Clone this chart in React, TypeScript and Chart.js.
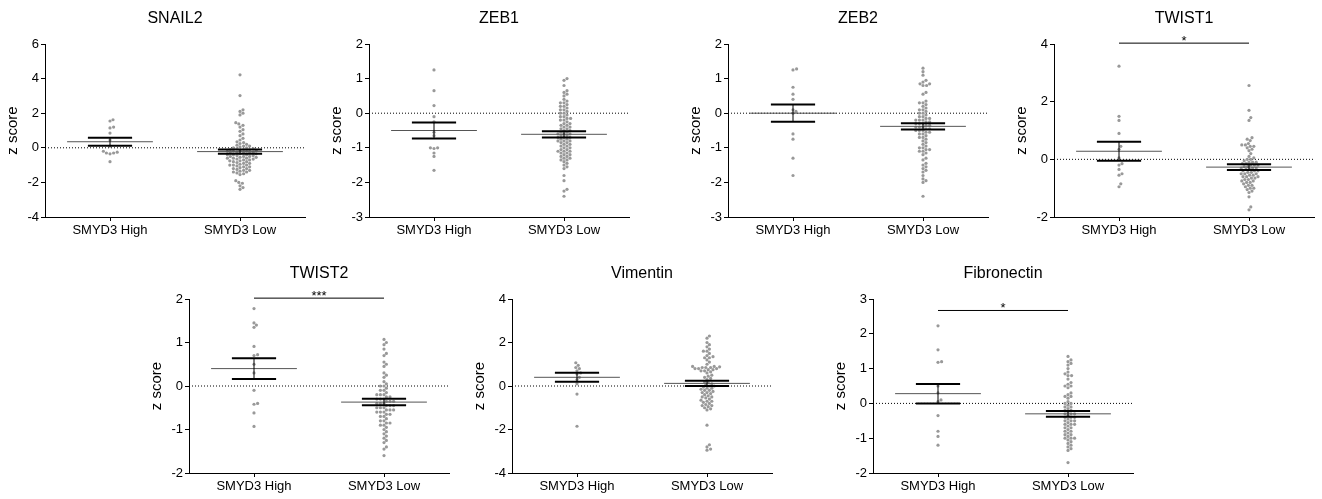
import React, { useEffect, useRef } from 'react';
import { Chart, registerables } from 'chart.js';
Chart.register(...registerables);

// ---------- data ----------
const categories = ['SMYD3 High', 'SMYD3 Low'];
const panelTitles = ['SNAIL2', 'ZEB1', 'ZEB2', 'TWIST1', 'TWIST2', 'Vimentin', 'Fibronectin'];
const yAxisTitle = 'z score';

const snail2High = [1.62, 1.55, 1.2, 1.15, 0.85, 0.45, 0.1, -0.2, -0.25, -0.3, -0.35, -0.3, -0.8];
const snail2Low = [4.22, 3.02, 2.2, 2.1, 2.0, 1.9, 1.45, 1.38, 1.3, 1.2, 1.05, 0.95, 0.8, 0.7, 0.55, 0.45, 0.35, 0.3, 0.25, 0.2, 0.15, 0.1, 0.1, 0.05, 0.0, 0.0, -0.05, -0.05, -0.1, -0.1, -0.1, -0.15, -0.15, -0.2, -0.2, -0.2, -0.25, -0.25, -0.3, -0.3, -0.3, -0.35, -0.35, -0.4, -0.4, -0.4, -0.45, -0.45, -0.5, -0.5, -0.5, -0.55, -0.55, -0.6, -0.6, -0.6, -0.65, -0.65, -0.7, -0.7, -0.75, -0.75, -0.8, -0.8, -0.85, -0.9, -0.9, -0.95, -1.0, -1.0, -1.0, -1.05, -1.1, -1.1, -1.15, -1.2, -1.2, -1.25, -1.3, -1.3, -1.35, -1.4, -1.4, -1.45, -1.5, -1.55, -1.9, -2.0, -2.05, -2.2, -2.3, -2.4];
const snail2Mean = [0.35, -0.22];
const snail2Sem = [0.23, 0.12];

const zeb1High = [1.25, 0.65, 0.22, -0.1, -0.25, -0.55, -0.65, -1.0, -1.0, -1.02, -1.15, -1.25, -1.65];
const zeb1Low = [1.0, 0.95, 0.8, 0.65, 0.6, 0.55, 0.5, 0.4, 0.35, 0.3, 0.3, 0.25, 0.2, 0.2, 0.15, 0.1, 0.1, 0.05, 0.0, 0.0, -0.05, -0.1, -0.1, -0.15, -0.15, -0.2, -0.2, -0.25, -0.3, -0.3, -0.35, -0.35, -0.4, -0.4, -0.45, -0.45, -0.5, -0.5, -0.55, -0.55, -0.6, -0.6, -0.6, -0.65, -0.65, -0.7, -0.7, -0.7, -0.75, -0.75, -0.8, -0.8, -0.8, -0.85, -0.85, -0.9, -0.9, -0.95, -0.95, -1.0, -1.0, -1.05, -1.05, -1.1, -1.1, -1.1, -1.15, -1.15, -1.2, -1.2, -1.25, -1.25, -1.3, -1.3, -1.35, -1.35, -1.4, -1.45, -1.5, -1.55, -1.6, -1.8, -1.95, -2.2, -2.25, -2.4];
const zeb1Mean = [-0.5, -0.61];
const zeb1Sem = [0.23, 0.09];

const zeb2High = [1.28, 1.25, 0.75, 0.55, 0.4, 0.1, 0.05, 0.0, -0.6, -0.75, -1.3, -1.8];
const zeb2Low = [1.3, 1.2, 1.1, 0.95, 0.9, 0.85, 0.85, 0.8, 0.8, 0.6, 0.55, 0.35, 0.3, 0.3, 0.25, 0.2, 0.15, 0.1, 0.1, 0.05, 0.0, 0.0, -0.05, -0.1, -0.1, -0.15, -0.15, -0.2, -0.2, -0.2, -0.25, -0.25, -0.3, -0.3, -0.3, -0.35, -0.35, -0.4, -0.4, -0.4, -0.45, -0.45, -0.5, -0.5, -0.5, -0.55, -0.55, -0.6, -0.6, -0.65, -0.7, -0.7, -0.75, -0.8, -0.85, -0.9, -0.95, -1.0, -1.0, -1.05, -1.05, -1.1, -1.1, -1.15, -1.2, -1.3, -1.35, -1.45, -1.5, -1.55, -1.6, -1.65, -1.7, -1.8, -1.9, -1.95, -2.0, -2.4];
const zeb2Mean = [0.0, -0.38];
const zeb2Sem = [0.25, 0.09];

const twist1High = [3.23, 1.49, 1.35, 0.9, 0.45, 0.35, 0.05, -0.15, -0.2, -0.35, -0.5, -0.55, -0.85, -0.95];
const twist1Low = [2.56, 1.7, 1.45, 1.35, 0.75, 0.7, 0.65, 0.55, 0.5, 0.5, 0.45, 0.45, 0.4, 0.35, 0.3, 0.2, 0.1, 0.05, 0.0, 0.0, -0.05, -0.1, -0.1, -0.1, -0.15, -0.15, -0.2, -0.2, -0.2, -0.25, -0.25, -0.3, -0.3, -0.3, -0.35, -0.35, -0.4, -0.4, -0.4, -0.45, -0.45, -0.5, -0.5, -0.5, -0.55, -0.55, -0.6, -0.6, -0.6, -0.65, -0.65, -0.7, -0.7, -0.75, -0.75, -0.8, -0.8, -0.85, -0.9, -0.9, -0.95, -1.0, -1.0, -1.05, -1.1, -1.15, -1.3, -1.65, -1.75];
const twist1Mean = [0.28, -0.27];
const twist1Sem = [0.33, 0.1];

const twist2High = [1.78, 1.45, 1.4, 1.35, 0.91, 0.72, 0.7, 0.5, 0.3, -0.1, -0.4, -0.42, -0.62, -0.93];
const twist2Low = [1.07, 1.0, 0.95, 0.85, 0.75, 0.7, 0.55, 0.5, 0.45, 0.3, 0.25, 0.2, 0.1, 0.05, 0.0, 0.0, -0.05, -0.1, -0.1, -0.15, -0.2, -0.2, -0.2, -0.25, -0.25, -0.3, -0.3, -0.3, -0.35, -0.35, -0.35, -0.4, -0.4, -0.4, -0.45, -0.45, -0.45, -0.5, -0.5, -0.5, -0.55, -0.55, -0.55, -0.6, -0.6, -0.6, -0.65, -0.65, -0.7, -0.7, -0.75, -0.8, -0.8, -0.85, -0.85, -0.9, -0.9, -0.95, -1.0, -1.05, -1.1, -1.15, -1.2, -1.25, -1.3, -1.4, -1.45, -1.6];
const twist2Mean = [0.4, -0.37];
const twist2Sem = [0.24, 0.075];

const vimentinHigh = [1.07, 0.95, 0.85, 0.8, 0.7, 0.6, 0.55, 0.4, 0.3, 0.1, -0.37, -1.85];
const vimentinLow = [2.3, 2.2, 2.0, 1.9, 1.8, 1.7, 1.6, 1.6, 1.5, 1.4, 1.35, 1.3, 1.3, 1.2, 1.1, 1.0, 0.9, 0.9, 0.88, 0.85, 0.85, 0.85, 0.8, 0.8, 0.8, 0.75, 0.75, 0.7, 0.7, 0.65, 0.6, 0.5, 0.45, 0.4, 0.35, 0.3, 0.2, 0.15, 0.1, 0.05, 0.0, 0.0, -0.05, -0.1, -0.1, -0.15, -0.2, -0.2, -0.25, -0.3, -0.3, -0.35, -0.4, -0.45, -0.5, -0.5, -0.55, -0.6, -0.65, -0.7, -0.7, -0.75, -0.8, -0.85, -0.9, -0.9, -0.95, -1.0, -1.05, -1.1, -1.8, -2.7, -2.8, -2.9, -2.95];
const vimentinMean = [0.4, 0.12];
const vimentinSem = [0.21, 0.12];

const fibronectinHigh = [2.23, 1.54, 1.2, 1.18, 0.5, 0.3, 0.1, 0.05, -0.35, -0.8, -0.95, -1.2];
const fibronectinLow = [1.35, 1.25, 1.2, 1.15, 1.1, 1.0, 0.9, 0.85, 0.8, 0.8, 0.7, 0.6, 0.55, 0.5, 0.5, 0.45, 0.3, 0.25, 0.2, 0.2, 0.15, 0.05, 0.0, 0.0, -0.05, -0.1, -0.1, -0.15, -0.2, -0.2, -0.25, -0.3, -0.3, -0.3, -0.35, -0.4, -0.4, -0.4, -0.45, -0.5, -0.5, -0.5, -0.55, -0.6, -0.6, -0.6, -0.65, -0.7, -0.7, -0.75, -0.8, -0.8, -0.85, -0.9, -0.9, -0.95, -1.0, -1.0, -1.0, -1.05, -1.1, -1.15, -1.2, -1.25, -1.3, -1.35, -1.7];
const fibronectinMean = [0.28, -0.3];
const fibronectinSem = [0.28, 0.085];

const yMin = [-4, -3, -3, -2, -2, -4, -2];
const yMax = [6, 2, 2, 4, 2, 4, 3];
const yStep = [2, 1, 1, 2, 1, 2, 1];
const sigLabels = ['', '', '', '*', '***', '', '*'];
const sigLevels = [null, null, null, 4.03, 2.02, null, 2.67];

// table built from the arrays
const groups = [
  [snail2High, snail2Low, snail2Mean, snail2Sem],
  [zeb1High, zeb1Low, zeb1Mean, zeb1Sem],
  [zeb2High, zeb2Low, zeb2Mean, zeb2Sem],
  [twist1High, twist1Low, twist1Mean, twist1Sem],
  [twist2High, twist2Low, twist2Mean, twist2Sem],
  [vimentinHigh, vimentinLow, vimentinMean, vimentinSem],
  [fibronectinHigh, fibronectinLow, fibronectinMean, fibronectinSem],
];

// ---------- layout / style ----------
const FONT = "'Liberation Sans', Arial, Helvetica, sans-serif";
const PLOT_W = 260;
const Y_AXIS_W = 45;
const RIGHT_PAD = 5;
const axisLeft = [45, 369, 728, 1054, 189, 512, 873];
const rowOf = [0, 0, 0, 0, 1, 1, 1];
const rowTop = [0, 250];
const rowHeight = [245, 249];
const rowPadTop = [44, 49];
const rowXAxisH = [28, 26];
const MEAN_HALF = 0.66;
const SEM_HALF = 0.34;
const CAT_X = [1, 3];

function swarm(values: number[], center: number, pxPerY: number, pxPerX: number) {
  const order = values.map((_, i) => i).sort((a, b) => values[a] - values[b]);
  const placed: { x: number; y: number }[] = [];
  const out: { x: number; y: number }[] = new Array(values.length);
  const D = 3.2;
  for (const idx of order) {
    const yPx = values[idx] * pxPerY;
    let chosen = 0;
    for (let k = 0; k < 400; k++) {
      const off = k === 0 ? 0 : (k % 2 === 1 ? 1 : -1) * Math.ceil(k / 2) * 0.6;
      let ok = true;
      for (const p of placed) {
        const dy = p.y - yPx;
        if (Math.abs(dy) >= D) continue;
        const dx = p.x - off;
        if (dx * dx + dy * dy < D * D) { ok = false; break; }
      }
      if (ok) { chosen = off; break; }
    }
    placed.push({ x: chosen, y: yPx });
    out[idx] = { x: center + chosen / pxPerX, y: values[idx] };
  }
  return out;
}

function seg(data: { x: number; y: number }[], color: string, width: number, order: number, extra: any = {}) {
  return {
    type: 'scatter', data, showLine: true, pointRadius: 0, borderColor: color, borderWidth: width,
    fill: false, tension: 0, order, ...extra,
  };
}

function buildConfig(i: number): any {
  const row = rowOf[i];
  const [high, low, mean, sem] = groups[i] as any;
  const plotH = rowHeight[row] - rowPadTop[row] - rowXAxisH[row];
  const pxPerY = plotH / (yMax[i] - yMin[i]);
  const pxPerX = PLOT_W / 4;
  const datasets: any[] = [];
  datasets.push(seg([{ x: 0, y: 0 }, { x: 4, y: 0 }], '#000', 1, 5, { borderDash: [1, 2] }));
  [high, low].forEach((vals: number[], g: number) => {
    datasets.push({
      type: 'scatter', data: swarm(vals, CAT_X[g], pxPerY, pxPerX), pointRadius: 1.6,
      pointBackgroundColor: '#999999', pointBorderWidth: 0, showLine: false, order: 4,
    });
    const c = CAT_X[g];
    const m = mean[g];
    const s = sem[g];
    datasets.push(seg([{ x: c - MEAN_HALF, y: m }, { x: c + MEAN_HALF, y: m }], '#555', 1, 2));
    datasets.push(seg([{ x: c - SEM_HALF, y: m + s }, { x: c + SEM_HALF, y: m + s }], '#000', 2, 1));
    datasets.push(seg([{ x: c - SEM_HALF, y: m - s }, { x: c + SEM_HALF, y: m - s }], '#000', 2, 1));
    datasets.push(seg([{ x: c, y: m - s }, { x: c, y: m + s }], '#000', 1, 1));
  });
  const sigY = sigLevels[i];
  if (sigY !== null) {
    datasets.push(seg([{ x: CAT_X[0], y: sigY }, { x: CAT_X[1], y: sigY }], '#000', 1, 1, { clip: false }));
  }

  const overlay = {
    id: 'overlay',
    afterDraw(chart: any) {
      const { ctx, chartArea } = chart;
      ctx.save();
      ctx.fillStyle = '#000';
      ctx.font = `16px ${FONT}`;
      ctx.textAlign = 'center';
      ctx.textBaseline = 'middle';
      ctx.fillText(panelTitles[i], (chartArea.left + chartArea.right) / 2, chartArea.top - 25);
      if (sigY !== null) {
        const xs = chart.scales.x;
        const ys = chart.scales.y;
        const cx = (xs.getPixelForValue(CAT_X[0]) + xs.getPixelForValue(CAT_X[1])) / 2;
        const py = ys.getPixelForValue(sigY);
        ctx.font = `13px ${FONT}`;
        ctx.textBaseline = 'alphabetic';
        ctx.fillText(sigLabels[i], cx, py + 2);
      }
      ctx.restore();
    },
  };

  return {
    type: 'scatter',
    data: { datasets },
    plugins: [overlay],
    options: {
      responsive: false,
      animation: false,
      events: [],
      layout: { padding: { top: rowPadTop[row], right: RIGHT_PAD, left: 0, bottom: 0 } },
      plugins: { legend: { display: false }, tooltip: { enabled: false }, title: { display: false } },
      scales: {
        x: {
          type: 'linear', min: 0, max: 4,
          afterBuildTicks: (s: any) => { s.ticks = CAT_X.map((v) => ({ value: v })); },
          afterFit: (s: any) => { s.height = rowXAxisH[row]; },
          ticks: {
            autoSkip: false, maxRotation: 0, minRotation: 0, padding: 2, color: '#000',
            font: { size: 13, family: FONT },
            callback: (v: number) => categories[CAT_X.indexOf(v)] ?? '',
          },
          grid: { drawOnChartArea: false, drawTicks: true, tickLength: 4, tickColor: '#000', lineWidth: 1 },
          border: { display: true, color: '#000', width: 1 },
        },
        y: {
          type: 'linear', min: yMin[i], max: yMax[i],
          afterFit: (s: any) => { s.width = Y_AXIS_W; },
          ticks: { stepSize: yStep[i], color: '#000', font: { size: 13, family: FONT }, padding: 2 },
          grid: { drawOnChartArea: false, drawTicks: true, tickLength: 4, tickColor: '#000' },
          border: { display: true, color: '#000', width: 1 },
          title: { display: true, text: yAxisTitle, color: '#000', font: { size: 15, family: FONT }, padding: { top: 4, bottom: 0 } },
        },
      },
    },
  };
}

function Panel({ index }: { index: number }) {
  const ref = useRef<HTMLCanvasElement>(null);
  const row = rowOf[index];
  const w = Y_AXIS_W + PLOT_W + RIGHT_PAD;
  const h = rowHeight[row];
  useEffect(() => {
    const chart = new Chart(ref.current as HTMLCanvasElement, buildConfig(index));
    return () => chart.destroy();
  }, [index]);
  return (
    <canvas
      ref={ref}
      width={w}
      height={h}
      style={{ position: 'absolute', left: axisLeft[index] - Y_AXIS_W, top: rowTop[row], width: w, height: h }}
    />
  );
}

export default function App() {
  return (
    <div style={{ position: 'absolute', left: 0, top: 0, width: 1322, height: 499, background: '#fff', overflow: 'hidden' }}>
      {panelTitles.map((_, i) => <Panel key={i} index={i} />)}
    </div>
  );
}
